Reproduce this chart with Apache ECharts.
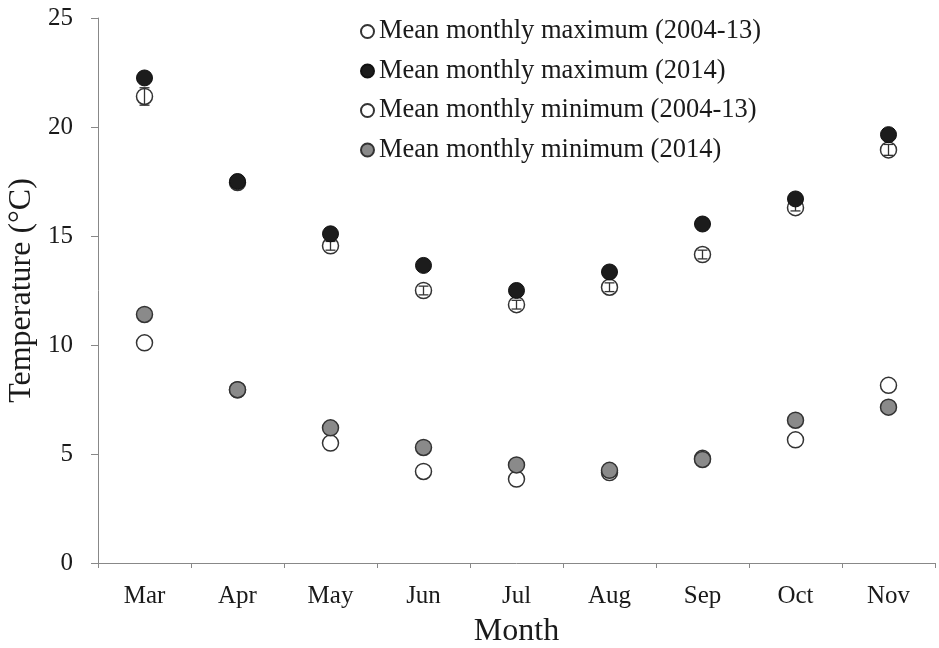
<!DOCTYPE html>
<html>
<head>
<meta charset="utf-8">
<script src="https://cdn.jsdelivr.net/npm/echarts@6/dist/echarts.min.js"></script>
<style>html,body{margin:0;padding:0;background:#fff;}#c{width:939px;height:648px;}</style>
</head>
<body>
<div id="c"></div>
<script>
var months = ['Mar','Apr','May','Jun','Jul','Aug','Sep','Oct','Nov'];
var maxMean = [21.4, 17.45, 14.55, 12.5, 11.85, 12.65, 14.15, 16.3, 18.95];
var maxErr  = [0.4, 0.2, 0.2, 0.2, 0.2, 0.2, 0.2, 0.15, 0.25];
var max2014 = [22.25, 17.5, 15.1, 13.65, 12.5, 13.35, 15.55, 16.7, 19.65];
var minMean = [10.1, 7.95, 5.5, 4.2, 3.85, 4.15, 4.8, 5.65, 8.15];
var min2014 = [11.4, 7.95, 6.2, 5.3, 4.5, 4.25, 4.75, 6.55, 7.15];
var yTicks = [0, 5, 10, 15, 20, 25];

var font = 'Liberation Serif';
var chart = echarts.init(document.getElementById('c'));

function pairs(arr){ return arr.map(function(v,i){ return [i, v]; }); }
var errData = maxMean.map(function(v,i){ return [i, v - maxErr[i], v + maxErr[i]]; });

chart.setOption({
  backgroundColor: '#fff',
  animation: false,
  grid: { left: 98, right: 4, top: 18, bottom: 85, containLabel: false, outerBoundsMode: 'none' },
  legend: {
    orient: 'vertical', left: 355, top: 13, itemWidth: 13, itemHeight: 13, itemGap: 12.5,
    icon: 'circle',
    textStyle: { fontFamily: font, fontSize: 26.5, color: '#1a1a1a', lineHeight: 26 },
    data: ['Mean monthly maximum (2004-13)', 'Mean monthly maximum (2014)', 'Mean monthly minimum (2004-13)', 'Mean monthly minimum (2014)']
  },
  xAxis: {
    type: 'category', data: months, boundaryGap: true,
    name: 'Month', nameLocation: 'middle', nameGap: 53,
    nameTextStyle: { fontFamily: font, fontSize: 32, color: '#1a1a1a' },
    axisLine: { lineStyle: { color: '#888', width: 1 } },
    axisTick: { show: true, length: 5, lineStyle: { color: '#888' } },
    axisLabel: { fontFamily: font, fontSize: 25, color: '#1a1a1a', margin: 21 },
    splitLine: { show: false }
  },
  yAxis: {
    type: 'value', min: 0, max: 25, interval: 5,
    name: 'Temperature (°C)', nameLocation: 'middle', nameGap: 57,
    nameTextStyle: { fontFamily: font, fontSize: 32, color: '#1a1a1a' },
    axisLine: { show: true, lineStyle: { color: '#888', width: 1 } },
    axisTick: { show: true, length: 7, lineStyle: { color: '#888' } },
    axisLabel: { fontFamily: font, fontSize: 25, color: '#1a1a1a', margin: 25,
      formatter: function(v){ return yTicks.indexOf(v) >= 0 ? String(v) : ''; } },
    splitLine: { show: false }
  },
  series: [
    {
      name: 'Mean monthly maximum (2004-13)', type: 'scatter', symbol: 'circle', symbolSize: 16,
      itemStyle: { color: '#fff', borderColor: '#333', borderWidth: 1.5, opacity: 1 },
      data: pairs(maxMean), z: 2
    },
    {
      name: 'errbars', type: 'custom', z: 3,
      data: errData,
      renderItem: function(params, api){
        var x = api.value(0);
        var lo = api.coord([x, api.value(1)]);
        var hi = api.coord([x, api.value(2)]);
        var w = 5;
        var st = { stroke: '#333', lineWidth: 1.3 };
        return { type: 'group', children: [
          { type: 'line', shape: { x1: lo[0], y1: lo[1], x2: hi[0], y2: hi[1] }, style: st },
          { type: 'line', shape: { x1: lo[0]-w, y1: lo[1], x2: lo[0]+w, y2: lo[1] }, style: st },
          { type: 'line', shape: { x1: hi[0]-w, y1: hi[1], x2: hi[0]+w, y2: hi[1] }, style: st }
        ]};
      }
    },
    {
      name: 'Mean monthly maximum (2014)', type: 'scatter', symbol: 'circle', symbolSize: 16,
      itemStyle: { color: '#1c1c1c', borderColor: '#111', borderWidth: 1, opacity: 1 },
      data: pairs(max2014), z: 4
    },
    {
      name: 'Mean monthly minimum (2004-13)', type: 'scatter', symbol: 'circle', symbolSize: 16,
      itemStyle: { color: '#fff', borderColor: '#333', borderWidth: 1.5, opacity: 1 },
      data: pairs(minMean), z: 5
    },
    {
      name: 'Mean monthly minimum (2014)', type: 'scatter', symbol: 'circle', symbolSize: 16,
      itemStyle: { color: '#8a8a8a', borderColor: '#333', borderWidth: 1.5, opacity: 1 },
      data: pairs(min2014), z: 6
    }
  ]
});
</script>
</body>
</html>
